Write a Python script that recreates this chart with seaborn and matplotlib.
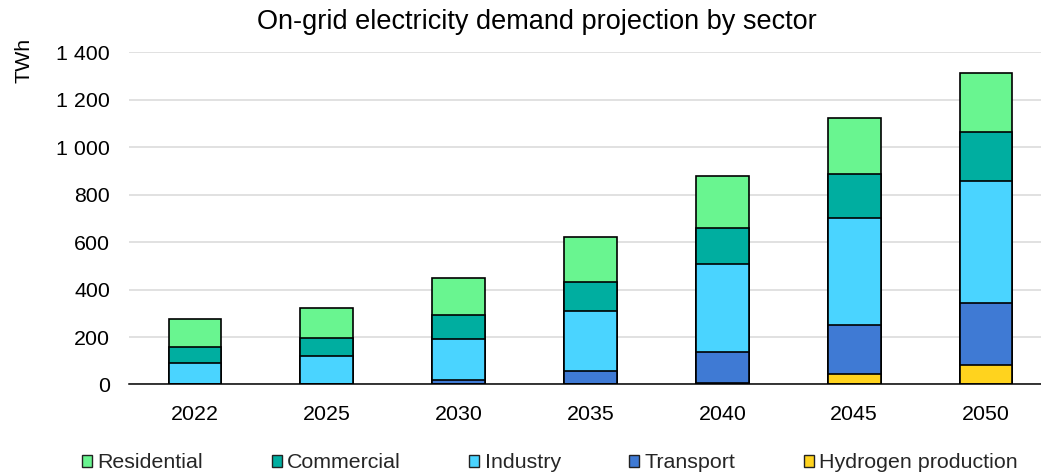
import matplotlib
matplotlib.use("Agg")
import matplotlib.pyplot as plt
from matplotlib.patches import Patch
from matplotlib.ticker import FuncFormatter, FixedLocator
import numpy as np
import pandas as pd
import seaborn as sns

# ------------------------------------------------------------
# Data (TWh)
# ------------------------------------------------------------
years = ["2022", "2025", "2030", "2035", "2040", "2045", "2050"]
hydrogen = [0, 0, 0, 0, 7, 44, 83]
transport = [1, 2, 17, 58, 130, 205, 260]
industry = [88, 118, 176, 253, 370, 453, 513]
commercial = [68, 77, 98, 122, 153, 183, 207]
residential = [117, 124, 159, 188, 219, 236, 250]

sectors = ["Hydrogen production", "Transport", "Industry", "Commercial", "Residential"]
colors = {
    "Residential": "#69F590",
    "Commercial": "#00AEA0",
    "Industry": "#4AD4FF",
    "Transport": "#3F7AD4",
    "Hydrogen production": "#FFD31E",
}

df = pd.DataFrame({
    "year": years,
    "Hydrogen production": hydrogen,
    "Transport": transport,
    "Industry": industry,
    "Commercial": commercial,
    "Residential": residential,
})

# cumulative tops for stacking (bottom -> top)
cum = df[sectors].cumsum(axis=1)
cum["year"] = df["year"]

# ------------------------------------------------------------
# Style
# ------------------------------------------------------------
sns.set_style("white")
plt.rcParams["font.family"] = ["Liberation Sans", "DejaVu Sans"]
FS = 15.4

fig = plt.figure(figsize=(10.41, 4.72), dpi=100)
ax = fig.add_axes([0.1239, 0.1854, 1 - 0.1239, 0.7038])

# draw tallest first so each lower segment overlays it
for sector in reversed(sectors):
    sns.barplot(
        data=cum, x="year", y=sector, order=years,
        color=colors[sector], saturation=1, width=0.4,
        edgecolor="black", linewidth=1.2, ax=ax, zorder=3,
    )

ax.set_ylim(0, 1400)
ax.set_xlim(-0.5, 6.417)
ax.set_yticks(np.arange(0, 1401, 200))
ax.yaxis.set_major_formatter(FuncFormatter(lambda v, p: f"{int(v):,}".replace(",", " ")))
ax.grid(axis="y", color="#d9d9d9", linewidth=1.1, zorder=0)
ax.set_axisbelow(True)
ax.set_xlabel("")
ax.set_ylabel("")

for s in ["top", "right", "left"]:
    ax.spines[s].set_visible(False)
ax.spines["bottom"].set_color("black")
ax.spines["bottom"].set_linewidth(1.1)
ax.spines["bottom"].set_zorder(5)

ax.tick_params(axis="y", length=0, pad=13.5, labelsize=FS, labelcolor="black")
ax.tick_params(axis="x", which="major", length=0, pad=15, labelsize=FS, labelcolor="black")
ax.xaxis.set_minor_locator(FixedLocator(np.arange(-0.5, 6.0, 1.0)))
ax.tick_params(axis="x", which="minor", length=5.5, width=1.1, color="black", direction="out")

# title and unit label
fig.text(537 / 1041, 1 - 22 / 472, "On-grid electricity demand projection by sector",
         ha="center", va="center", fontsize=19.5, color="black")
fig.text(24 / 1041, 1 - 60 / 472, "TWh", rotation=90,
         ha="center", va="center", fontsize=FS, color="black")

# legend
legend_order = ["Residential", "Commercial", "Industry", "Transport", "Hydrogen production"]
handles = [Patch(facecolor=colors[s], edgecolor="#222222", linewidth=1.0, label=s)
           for s in legend_order]
fig.legend(
    handles=handles, loc="center", bbox_to_anchor=(550 / 1041, 1 - 463 / 472),
    ncol=5, frameon=False, fontsize=FS, handlelength=0.47, handleheight=0.47,
    handletextpad=0.25, columnspacing=3.2, borderpad=0, borderaxespad=0,
)

fig.savefig("out.png", dpi=100)
plt.close(fig)
